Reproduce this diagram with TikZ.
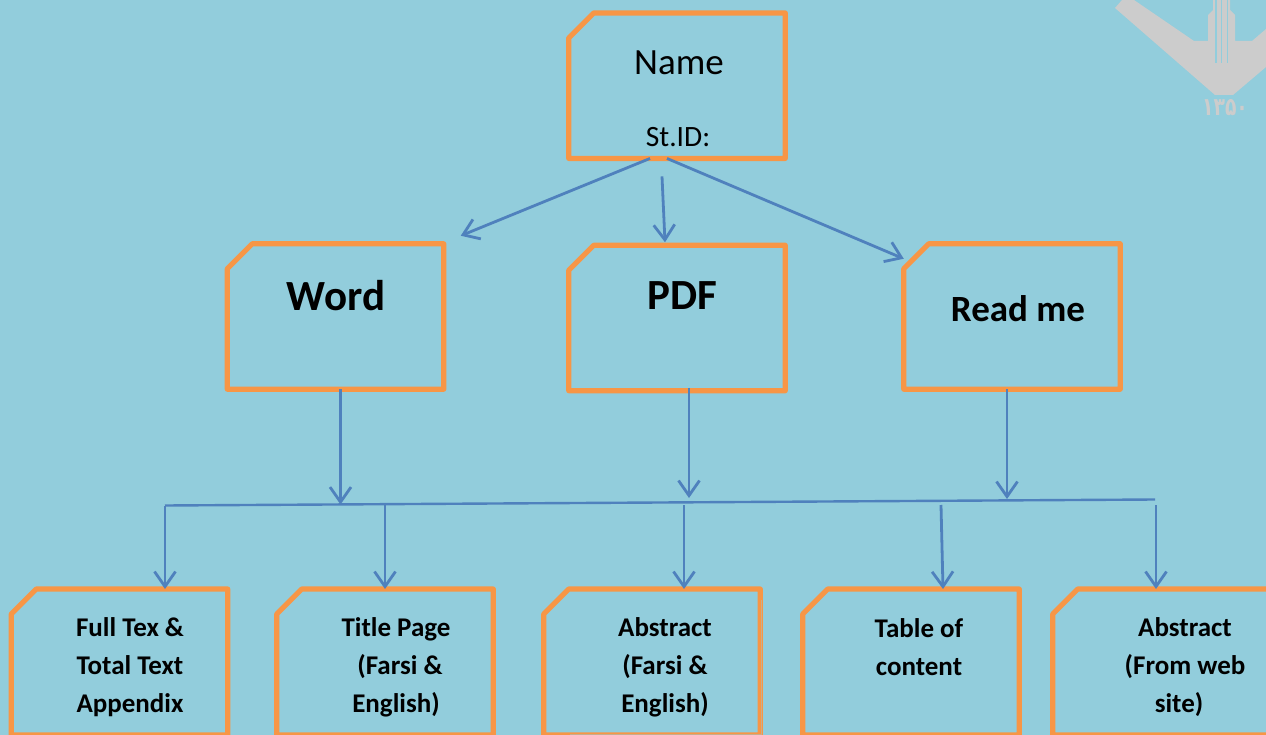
\documentclass[tikz,border=0pt]{standalone}
\usepackage{fontspec}
\usepackage{graphicx}
\setmainfont{Carlito}
\newfontfamily\logofont[Script=Arabic]{DejaVu Sans}
\usetikzlibrary{arrows.meta,calc}
\definecolor{bgblue}{HTML}{92CDDC}
\definecolor{boxorange}{HTML}{F79646}
\definecolor{linkblue}{HTML}{4F81BD}
\definecolor{logogray}{HTML}{CCCCCC}
\definecolor{edgetan}{HTML}{C8AE8C}
\tikzset{
  cardbox/.style={rectangle,inner sep=0pt,outer sep=0pt,minimum width=216.5pt,minimum height=#1},
  cardbox/.default=145.5pt,
  cardline/.style={draw=boxorange,line width=5.2pt,line join=round},
  link/.style={draw=linkblue,line width=2.8pt,-{Straight Barb[length=15pt,width=21pt,line width=2.8pt]}},
  busline/.style={draw=linkblue,line width=2.4pt},
  bigtext/.style={font=\fontsize{37}{40}\selectfont,text=black,inner sep=0pt},
  idtext/.style={font=\fontsize{29.5}{32}\selectfont,text=black,inner sep=0pt},
  headtext/.style={font=\bfseries\fontsize{43}{46}\selectfont,text=black,inner sep=0pt},
  readtext/.style={font=\bfseries\fontsize{37}{40}\selectfont,text=black,inner sep=0pt},
  leaftext/.style={font=\bfseries\fontsize{27}{38}\selectfont,text=black,inner sep=0pt,align=center},
}
\begin{document}
\begin{tikzpicture}[x=1pt,y=-1pt]
\useasboundingbox (0,0) rectangle (1266,735);
\clip (0,0) rectangle (1266,735);
\fill[bgblue] (0,0) rectangle (1266,735);
% logo
\fill[logogray] (1115,8) -- (1122,0) -- (1134,0) -- (1194,41) -- (1208,41) -- (1208,15) -- (1213,10) -- (1213,0)
  -- (1230,0) -- (1230,10) -- (1235,15) -- (1235,41) -- (1252,41) -- (1266,29) -- (1266,67) -- (1233,95) -- (1215,95) -- cycle;
\foreach \lx in {1216,1221.5,1227.5}{\draw[bgblue,line width=1.8pt] (\lx,0) -- (\lx,63);}
\node[font=\logofont\bfseries\fontsize{25}{27}\selectfont,text=logogray,inner sep=0pt] (logoyear) at (1225,108) {\scalebox{.75}[1]{۱۳۵۰}};
% boxes
\node[cardbox] (name) at (677,85.7) {};
\node[cardbox] (word) at (335.5,316.5) {};
\node[cardbox] (pdf) at (677,318) {};
\node[cardbox] (read) at (1012,316.5) {};
\node[cardbox=146pt] (leafa) at (119.5,662) {};
\node[cardbox=146pt] (leafb) at (385,662) {};
\node[cardbox=146pt] (leafc) at (652,662) {};
\node[cardbox=146pt] (leafd) at (911,662) {};
\node[cardbox=146pt] (leafe) at (1161,662) {};
\foreach \n in {name,word,pdf,read,leafa,leafb,leafc,leafd,leafe}{
  \draw[cardline] ($(\n.north west)+(0,25)$) -- ($(\n.north west)+(25,0)$) -- (\n.north east) -- (\n.south east) -- (\n.south west) -- cycle;
}
\draw[edgetan,line width=.9pt] (761,600) -- (761,735) (570,734.5) -- (761,734.5);
% texts
\node[bigtext] (nametext) at (679,63) {Name};
\node[idtext] (idtext) at (678,137) {St.ID:};
\node[headtext] (wordtext) at (336,296) {Word};
\node[headtext] (pdftext) at (682,296) {PDF};
\node[readtext] (readtext) at (1018,309) {Read me};
\node[leaftext] (ta) at (130,667) {Full Tex \&\\Total Text\\Appendix};
\node[leaftext] (tb) at (396,667) {Title Page\\\hspace*{8pt}(Farsi \&\\English)};
\node[leaftext] (tc) at (665,667) {Abstract\\(Farsi \&\\English)};
\node[leaftext] (td) at (919,647) {Table of\\content};
\node[leaftext] (te) at (1185,667) {Abstract\\(From web\\site)\hspace*{12pt}};
% bus
\coordinate (busl) at (165,505.5);
\coordinate (busr) at (1155,499.5);
\draw[busline] (busl) -- (busr);
% connectors
\draw[link] ($(name.south)+(-27,0)$) -- ($(word.north east)+(17,-8)$);
\draw[link] ($(name.south)+(-15,18)$) -- ($(pdf.north)+(-12,-3)$);
\draw[link] ($(name.south)+(-10,0)$) -- ($(read.north west)+(0,15)$);
\draw[link] ($(word.south)+(5,0)$) -- (340.5,504.5);
\draw[link] ($(pdf.south)+(12,-3)$) -- (689,498);
\draw[link] ($(read.south)+(-5,0)$) -- (1007,499);
\draw[link] (busl) -- ($(leafa.north)+(45.5,0)$);
\draw[link] (385,505) -- ($(leafb.north)+(0,0)$);
\draw[link] (684,505) -- ($(leafc.north)+(32,0)$);
\draw[link] (941,505) -- ($(leafd.north)+(32,0)$);
\draw[link] (1156,505) -- ($(leafe.north)+(-5,0)$);
\end{tikzpicture}
\end{document}
